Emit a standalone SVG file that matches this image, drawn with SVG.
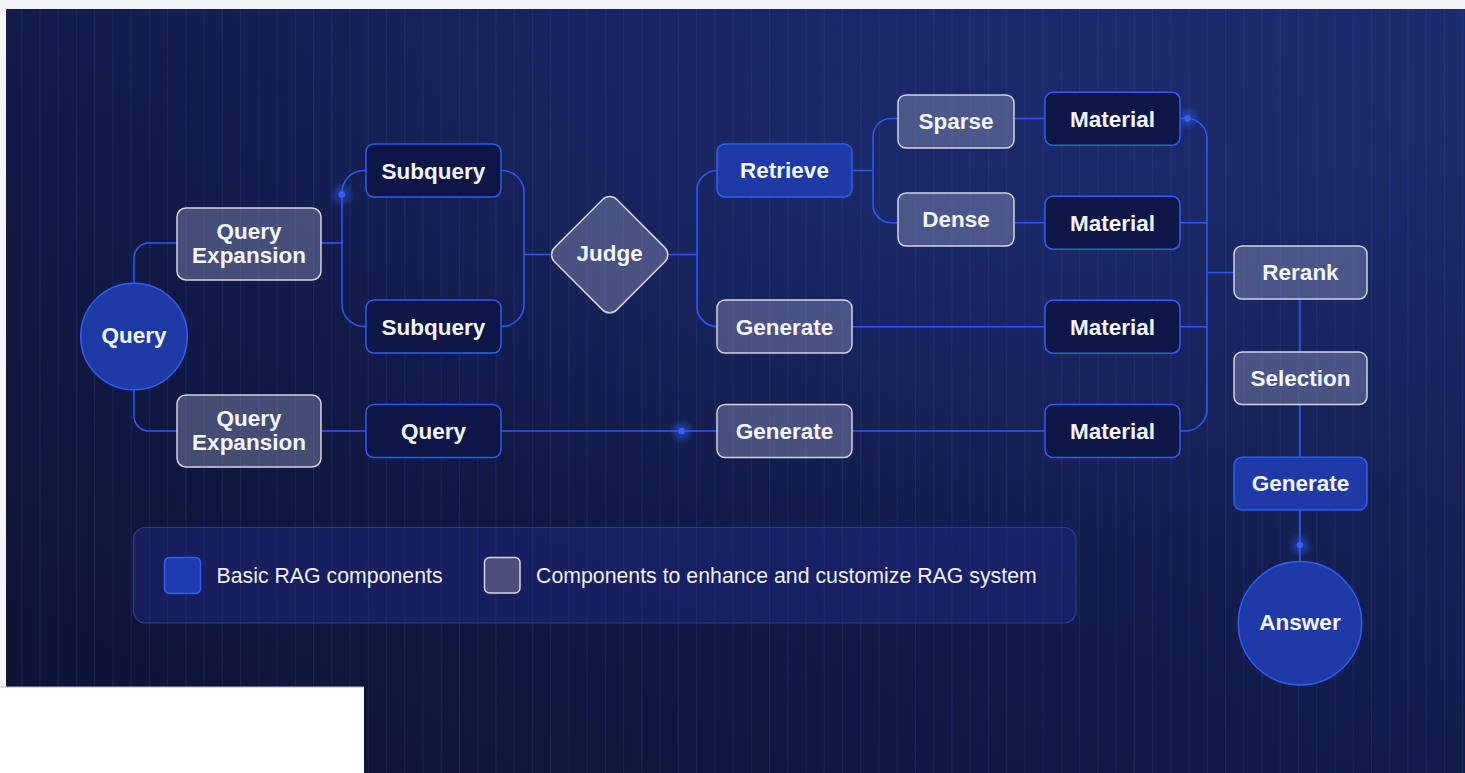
<svg xmlns="http://www.w3.org/2000/svg" width="1465" height="773" viewBox="0 0 1465 773">
<defs>
<linearGradient id="bg" x1="0" y1="1" x2="1" y2="0">
<stop offset="0" stop-color="#0d1332"/>
<stop offset="0.45" stop-color="#121a48"/>
<stop offset="1" stop-color="#1b2c6e"/>
</linearGradient>
<radialGradient id="glowbg" cx="0.6" cy="0.25" r="0.5">
<stop offset="0" stop-color="#2a3f9a" stop-opacity="0.25"/>
<stop offset="1" stop-color="#2a3f9a" stop-opacity="0"/>
</radialGradient>
<pattern id="grid" x="21.2" y="0" width="18.24" height="40" patternUnits="userSpaceOnUse">
<rect x="0" y="0" width="1" height="40" fill="#3a5ad0" fill-opacity="0.2"/>
</pattern>
<radialGradient id="dotglow">
<stop offset="0" stop-color="#2f62ff" stop-opacity="0.55"/>
<stop offset="1" stop-color="#2f62ff" stop-opacity="0"/>
</radialGradient>
</defs>
<style>
.dark{fill:#0d1646;stroke:#2f5cf2;stroke-width:1.5}
.grey{fill:rgba(150,154,190,0.4);stroke:#d2d4e4;stroke-width:1.5}
.blue{fill:#1e3aa6;stroke:#2f5ff2;stroke-width:1.5}
.lbl{font-family:"Liberation Sans",Arial,sans-serif;font-weight:bold;font-size:22.5px;fill:#f4f6ff;text-anchor:middle}
.leg{font-family:"Liberation Sans",Arial,sans-serif;font-size:21.3px;fill:#eef0fa}
.conn path{fill:none;stroke:#2b58f0;stroke-width:1.6}
</style>
<rect x="0" y="0" width="1465" height="773" fill="#f3f4f8"/>
<rect x="6" y="9" width="1459" height="764" fill="url(#bg)"/>
<rect x="6" y="9" width="1459" height="764" fill="url(#glowbg)"/>
<rect x="6" y="9" width="1459" height="764" fill="url(#grid)"/>
<rect x="0" y="687" width="364" height="86" fill="#ffffff"/>
<line x1="0" y1="687" x2="364" y2="687" stroke="#b4b8c8" stroke-width="1"/>

<g id="connectors" class="conn">
<path d="M134,283 V258 A15,15 0 0 1 149,243 H177"/>
<path d="M134,390 V416 A15,15 0 0 0 149,431 H177"/>
<path d="M321,243 H342"/>
<path d="M366,170.5 H364 A22,22 0 0 0 342,192.5 V304.5 A22,22 0 0 0 364,326.5 H366"/>
<path d="M501,170.5 H502 A22,22 0 0 1 524,192.5 V304.5 A22,22 0 0 1 502,326.5 H501"/>
<path d="M524,254.5 H552"/>
<path d="M668,254.5 H697"/>
<path d="M717,170.5 A20,20 0 0 0 697,190.5 V306.5 A20,20 0 0 0 717,326.5"/>
<path d="M852,170.5 H873"/>
<path d="M898,118.5 H891 A18,18 0 0 0 873,136.5 V204.7 A18,18 0 0 0 891,222.7 H898"/>
<path d="M1014,118.5 H1045"/>
<path d="M1014,222.7 H1045"/>
<path d="M852,326.7 H1045"/>
<path d="M321,431 H366"/>
<path d="M501,431 H717"/>
<path d="M852,431 H1045"/>
<path d="M1180,118.5 H1187 A20,20 0 0 1 1207,138.5 V409 A22,22 0 0 1 1185,431 H1180"/>
<path d="M1180,222.7 H1207"/>
<path d="M1180,326.7 H1207"/>
<path d="M1207,272.5 H1234"/>
<path d="M1300,299 V352"/>
<path d="M1300,404.5 V457"/>
<path d="M1300,510 V562"/>
<circle cx="341.8" cy="194.5" r="13" fill="url(#dotglow)"/>
<circle cx="341.8" cy="194.5" r="3.2" fill="#2f62ff"/>
<circle cx="681.7" cy="431" r="13" fill="url(#dotglow)"/>
<circle cx="681.7" cy="431" r="3.2" fill="#2f62ff"/>
<circle cx="1187.5" cy="118.5" r="13" fill="url(#dotglow)"/>
<circle cx="1187.5" cy="118.5" r="3.2" fill="#2f62ff"/>
<circle cx="1300" cy="545" r="13" fill="url(#dotglow)"/>
<circle cx="1300" cy="545" r="3.2" fill="#2f62ff"/>
</g>

<g id="query-start"><circle cx="134" cy="336.5" r="53.3" class="blue"/><text class="lbl" x="134" y="343">Query</text></g>
<g id="qe1"><rect x="177" y="208" width="144" height="72" rx="9" class="grey"/><text class="lbl" x="249" y="239.3">Query</text><text class="lbl" x="249" y="263.3">Expansion</text></g>
<g id="qe2"><rect x="177" y="395" width="144" height="72" rx="9" class="grey"/><text class="lbl" x="249" y="426.3">Query</text><text class="lbl" x="249" y="450.3">Expansion</text></g>
<g id="subquery1"><rect x="366" y="144" width="135" height="53" rx="8" class="dark"/><text class="lbl" x="433.5" y="178.5">Subquery</text></g>
<g id="subquery2"><rect x="366" y="300" width="135" height="53" rx="8" class="dark"/><text class="lbl" x="433.5" y="334.5">Subquery</text></g>
<g id="query-mid"><rect x="366" y="404.5" width="135" height="53" rx="8" class="dark"/><text class="lbl" x="433.5" y="438.5">Query</text></g>
<g id="judge"><rect x="565.7" y="210.7" width="88" height="88" rx="10" class="grey" transform="rotate(45 609.7 254.7)"/><text class="lbl" x="609.7" y="261">Judge</text></g>
<g id="retrieve"><rect x="717" y="144" width="135" height="53" rx="8" class="blue"/><text class="lbl" x="784.5" y="178">Retrieve</text></g>
<g id="generate1"><rect x="717" y="300" width="135" height="53" rx="8" class="grey"/><text class="lbl" x="784.5" y="334.5">Generate</text></g>
<g id="generate2"><rect x="717" y="404.5" width="135" height="53" rx="8" class="grey"/><text class="lbl" x="784.5" y="438.5">Generate</text></g>
<g id="sparse"><rect x="898" y="95" width="116" height="53" rx="8" class="grey"/><text class="lbl" x="956" y="129">Sparse</text></g>
<g id="dense"><rect x="898" y="193" width="116" height="53" rx="8" class="grey"/><text class="lbl" x="956" y="227">Dense</text></g>
<g id="material1"><rect x="1045" y="92.3" width="135" height="53" rx="8" class="dark"/><text class="lbl" x="1112.5" y="126.5">Material</text></g>
<g id="material2"><rect x="1045" y="196.2" width="135" height="53" rx="8" class="dark"/><text class="lbl" x="1112.5" y="230.5">Material</text></g>
<g id="material3"><rect x="1045" y="300.2" width="135" height="53" rx="8" class="dark"/><text class="lbl" x="1112.5" y="334.5">Material</text></g>
<g id="material4"><rect x="1045" y="404.5" width="135" height="53" rx="8" class="dark"/><text class="lbl" x="1112.5" y="438.5">Material</text></g>
<g id="rerank"><rect x="1234" y="246" width="133" height="53" rx="8" class="grey"/><text class="lbl" x="1300.5" y="280">Rerank</text></g>
<g id="selection"><rect x="1234" y="352" width="133" height="52.5" rx="8" class="grey"/><text class="lbl" x="1300.5" y="385.5">Selection</text></g>
<g id="generate3"><rect x="1234" y="457.3" width="133" height="52.7" rx="8" class="blue"/><text class="lbl" x="1300.5" y="490.7">Generate</text></g>
<g id="answer"><circle cx="1300" cy="623.3" r="61.7" class="blue"/><text class="lbl" x="1300" y="630.3">Answer</text></g>

<g id="legend">
<rect x="133.5" y="527.5" width="942.5" height="95.5" rx="12" fill="rgba(40,50,170,0.3)" stroke="#2a3c9c" stroke-width="1.2"/>
<rect x="164.5" y="557.5" width="36" height="36" rx="5" fill="#1f3bb0" stroke="#2f5ff0" stroke-width="1.5"/>
<text class="leg" x="216.5" y="583.3">Basic RAG components</text>
<rect x="484.5" y="557.5" width="35.5" height="35.5" rx="5" fill="#4a4e78" stroke="#d5d7e6" stroke-width="1.5"/>
<text class="leg" x="536" y="583.3">Components to enhance and customize RAG system</text>
</g>
</svg>
